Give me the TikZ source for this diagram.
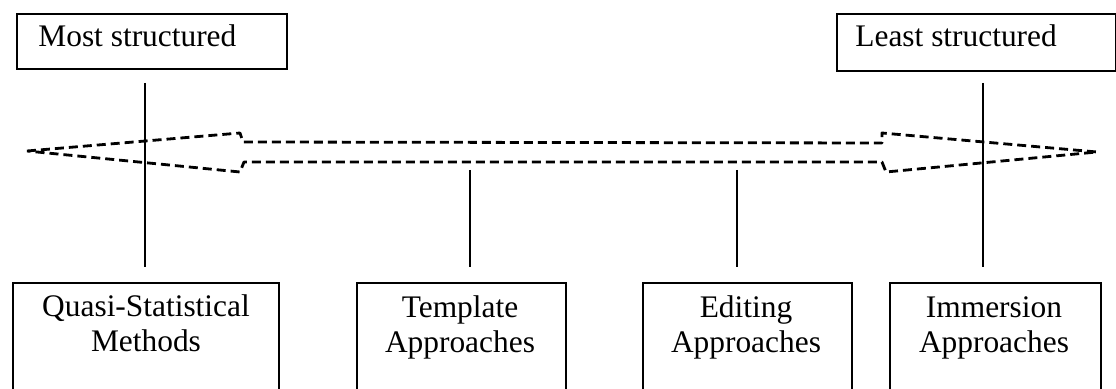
\documentclass[tikz,border=0pt]{standalone}
\usepackage{fontspec}
\setmainfont{Liberation Serif}
\begin{document}
\begin{tikzpicture}[x=0.5pt,y=-0.5pt,
  boxline/.style={draw=black, line width=1pt, inner sep=0pt, anchor=north west},
  label/.style={font=\fontsize{15.7}{17.5}\selectfont, inner sep=0pt},
  stem/.style={draw=black, line width=1pt},
  dashline/.style={draw=black, line width=1.4pt, dash pattern=on 4.5pt off 2.5pt, line join=round}]
\useasboundingbox (0,0) rectangle (1116,389);
\clip (0,0) rectangle (1116,389);

% top labels
\node[boxline, minimum width=135pt, minimum height=27.5pt] (most) at (16,13) {};
\node[label, anchor=base west] (mosttxt) at (38,47) {Most structured};
\node[boxline, minimum width=139.5pt, minimum height=28.5pt] (least) at (836,13) {};
\node[label, anchor=base west] (leasttxt) at (855,47) {Least structured};

% bottom categories (their lower edges run off the page)
\node[boxline, minimum width=133pt, minimum height=70pt] (quasi) at (12,282) {};
\node[boxline, minimum width=104.5pt, minimum height=70pt] (templ) at (356,282) {};
\node[boxline, minimum width=104.5pt, minimum height=70pt] (edit) at (642,282) {};
\node[boxline, minimum width=105.5pt, minimum height=70pt] (immer) at (889,282) {};

% two-line captions, anchored on the baseline of their second line
\node[label, anchor=base, align=center] (quasitxt) at (146,352) {Quasi-Statistical\\Methods};
\node[label, anchor=base, align=center] (templtxt) at (460,353) {Template\\Approaches};
\node[label, anchor=base, align=center] (edittxt) at (746,353) {Editing\\Approaches};
\node[label, anchor=base, align=center] (immertxt) at (994,353) {Immersion\\Approaches};

% double-headed dashed arrow outline
\coordinate (tipL) at (27,151);
\coordinate (tipR) at (1097,152);
\coordinate (ulb) at (240,133);
\coordinate (uls) at (243,142);
\coordinate (urs) at (882,143);
\coordinate (urb) at (882,133);
\coordinate (lrb) at (886,172);
\coordinate (lrs) at (882,162);
\coordinate (lls) at (244,162);
\coordinate (llb) at (240,172);
\path[dashline] (tipL) -- (ulb) -- (uls) -- (urs) -- (urb) -- (tipR)
  -- (lrb) -- (lrs) -- (lls) -- (llb) -- cycle;

% vertical stems
\coordinate (s1t) at (145,83);  \coordinate (s1b) at (145,267);
\coordinate (s2t) at (470,170); \coordinate (s2b) at (470,267);
\coordinate (s3t) at (737,170); \coordinate (s3b) at (737,267);
\coordinate (s4t) at (983,83);  \coordinate (s4b) at (983,267);
\path[stem] (s1t) -- (s1b);
\path[stem] (s2t) -- (s2b);
\path[stem] (s3t) -- (s3b);
\path[stem] (s4t) -- (s4b);
\end{tikzpicture}
\end{document}
